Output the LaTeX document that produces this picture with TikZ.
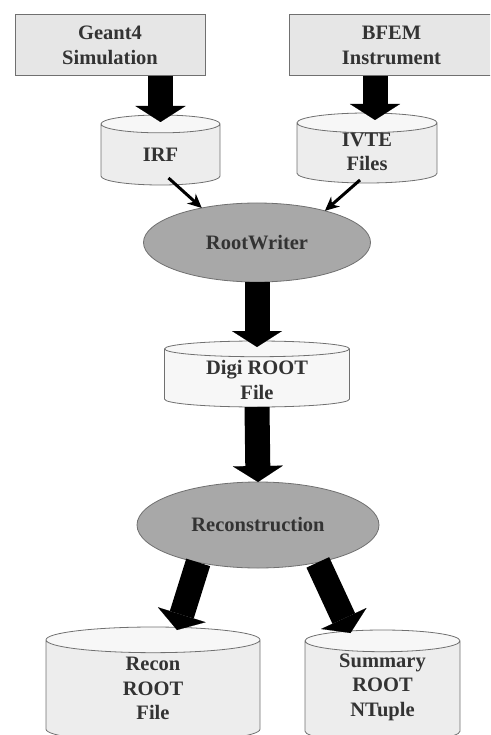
\documentclass[tikz,border=0pt]{standalone}
\usepackage{fontspec}
\setmainfont{Liberation Serif}
\usetikzlibrary{shapes.geometric, arrows.meta, positioning}

\definecolor{boxgray}{HTML}{E6E6E6}
\definecolor{filegray}{HTML}{EDEDED}
\definecolor{filetop}{HTML}{F7F7F7}
\definecolor{procgray}{HTML}{A8A8A8}
\definecolor{edgegray}{HTML}{707070}

\begin{document}
\begin{tikzpicture}[
  x=1pt, y=-1pt,
  every node/.style={font=\fontsize{20.5}{24.5}\selectfont\bfseries, text=black!80, outer sep=0pt},
  source/.style={rectangle, draw=edgegray, fill=boxgray, line width=1pt, minimum height=61pt, align=center},
  datafile/.style={cylinder, shape border rotate=90, inner sep=0pt, anchor=north, draw=edgegray, line width=0.8pt, cylinder uses custom fill, cylinder body fill=filegray, cylinder end fill=filetop},
  filelabel/.style={align=center, inner sep=0pt},
  process/.style={ellipse, draw=edgegray, fill=procgray, line width=0.8pt},
  bigarrow/.style={line width=25pt, -{Triangle[width=50pt, length=16pt, line width=0.1pt]}},
  arrow/.style={line width=3pt, -{Stealth[length=14pt, width=13pt]}}
]
\useasboundingbox (0,0) rectangle (490,735);
\clip (0,0) rectangle (490,735);

% sources
\node[source, minimum width=190pt] (geant) at (110,45.5) {Geant4\\Simulation};
\node[source, minimum width=205pt, right=84pt of geant] (bfem) {BFEM\\Instrument};

% input files
\node[datafile, aspect=0.15, text width=119pt, minimum height=70pt] (irf) at (160.5,115) {};
\node[filelabel] (irftext) at ([yshift=-5pt]irf.shape center) {IRF};
\node[datafile, aspect=0.14, text width=140pt, minimum height=70pt] (ivte) at (367,113) {};
\node[filelabel] (ivtetext) at ([yshift=-4pt]ivte.shape center) {IVTE\\Files};

% processing chain
\node[process, minimum width=227pt, minimum height=79pt] (writer) at (257,242.5) {RootWriter};
\node[datafile, aspect=0.085, text width=185pt, minimum height=66pt, cylinder body fill=filetop, below=59pt of writer] (digi) {};
\node[filelabel] (digitext) at ([yshift=-6pt]digi.shape center) {Digi ROOT\\File};
\node[process, minimum width=242pt, minimum height=86pt] (recon) at (258,525) {Reconstruction};

% outputs
\node[datafile, aspect=0.12, text width=214pt, minimum height=115pt] (reconfile) at (153,627) {};
\node[filelabel] (reconfiletext) at ([yshift=-4pt]reconfile.shape center) {Recon\\ROOT\\File};
\node[datafile, aspect=0.14, text width=155pt, minimum height=112pt] (summary) at (382.5,630) {};
\node[filelabel] (summarytext) at ([yshift=-1pt]summary.shape center) {Summary\\ROOT\\NTuple};

% arrows
\draw[bigarrow, shorten >=-7pt] (geant.south -| irf.north) -- (irf.north);
\draw[bigarrow, shorten >=-7pt] ([xshift=8pt]bfem.south -| ivte.north) -- ([xshift=8pt]ivte.north);
\draw[arrow] ([shift={(8,-7)}]irf.south) -- (writer.148);
\draw[arrow] ([shift={(-7,-3)}]ivte.south) -- (writer.25);
\draw[bigarrow, shorten >=-6pt] (writer.south) -- (digi.north);
\draw[bigarrow] (digi.south) -- (recon.north);
\draw[bigarrow] (recon.212) -- ([shift={(24,3)}]reconfile.north);
\draw[bigarrow] (recon.328) -- ([shift={(-32,3)}]summary.north);

\end{tikzpicture}
\end{document}
